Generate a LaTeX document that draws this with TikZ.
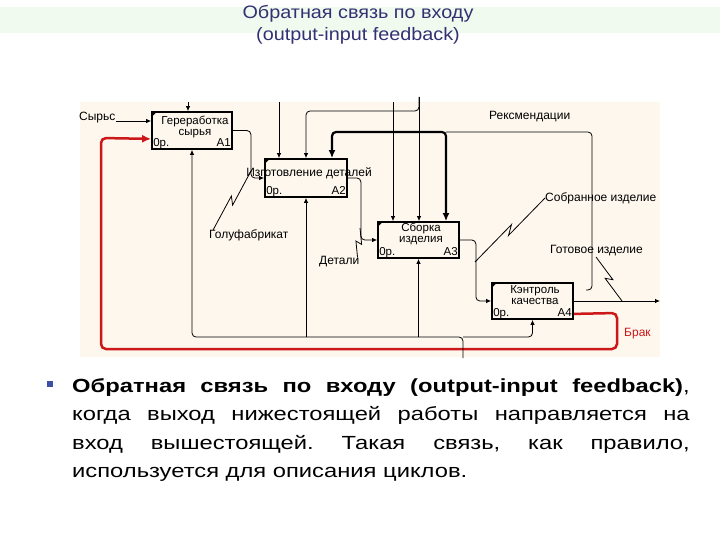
\documentclass[tikz,border=0pt]{standalone}
\usepackage{fontspec}
\setmainfont{Liberation Sans}
\usetikzlibrary{calc,arrows.meta}
\definecolor{cream}{RGB}{253,247,238}
\definecolor{titlegreen}{RGB}{240,250,238}
\definecolor{titleblue}{RGB}{50,50,115}
\definecolor{brakred}{RGB}{204,24,24}
\definecolor{bulletblue}{RGB}{60,80,165}
\newcommand\idefsquig[2]{\draw[wire,sharp corners] (#1) -- ($(#1)!0.55!(#2)!3pt!90:(#2)$) -- ($(#1)!0.45!(#2)!3pt!-90:(#2)$) -- (#2);}
\frenchspacing
\begin{document}
\begin{tikzpicture}[x=1pt,y=-1pt,
  box/.style={draw,line width=1.8pt,fill=cream,inner sep=0pt},
  wire/.style={line width=0.8pt,rounded corners=4pt},
  arr/.style={-{Latex[length=5pt,width=4.5pt]}},
  lbl/.style={font=\fontsize{12}{13}\selectfont,inner sep=0pt},
  boxtxt/.style={font=\fontsize{11.5}{12}\selectfont,inner sep=0pt},
  bodytxt/.style={anchor=base west,inner sep=0pt,font=\fontsize{19}{21}\selectfont},
  titletxt/.style={anchor=base,inner sep=0pt,text=titleblue,font=\fontsize{18}{20}\selectfont}
]
\useasboundingbox (0,0) rectangle (720,540);
\fill[white] (0,0) rectangle (720,540);
\fill[titlegreen] (0,7) rectangle (720,33);
\node[titletxt] (t1) at (358,19) {\scalebox{1.1}[1]{Обратная связь по входу}};
\node[titletxt] (t2) at (358,41) {\scalebox{1.1}[1]{(output-input feedback)}};

% diagram background
\fill[cream] (80,102) rectangle (660,357);

% boxes
\node[box,minimum width=80pt,minimum height=37pt] (A1) at (192,130.5) {};
\node[box,minimum width=82pt,minimum height=38pt] (A2) at (306,178) {};
\node[box,minimum width=81pt,minimum height=36pt] (A3) at (418.5,240) {};
\node[box,minimum width=81pt,minimum height=36pt] (A4) at (532.5,301) {};
\foreach \b in {A1,A2,A3,A4}{
  \fill ($(\b.north west)+(1,1)$) -- ++(4.5,0) -- ++(-4.5,4.5) -- cycle;
  \node[boxtxt,anchor=base west] (\b op) at ($(\b.south west)+(2,-3)$) {0р.};
}
\node[boxtxt,anchor=base east] (A1n) at ($(A1.south east)+(-2,-3)$) {A1};
\node[boxtxt,anchor=base east] (A2n) at ($(A2.south east)+(-2,-3)$) {A2};
\node[boxtxt,anchor=base east] (A3n) at ($(A3.south east)+(-2,-3)$) {A3};
\node[boxtxt,anchor=base east] (A4n) at ($(A4.south east)+(-2,-3)$) {A4};
\node[boxtxt,anchor=base] (A1a) at (195,124.5) {Гереработка};
\node[boxtxt,anchor=base] (A1b) at (195,135.5) {сырья};
\node[lbl] (A2a) at (309,173) {Изготовление деталей};
\node[boxtxt,anchor=base] (A3a) at (421,231.5) {Сборка};
\node[boxtxt,anchor=base] (A3b) at (421,243) {изделия};
\node[boxtxt,anchor=base] (A4a) at (535,293) {Кэнтроль};
\node[boxtxt,anchor=base] (A4b) at (535,304.5) {качества};

% input
\node[lbl,anchor=base west] (lSyr) at (79,121) {Сырьс};
\draw[wire,arr] (lSyr.base east) -- (A1.west |- lSyr.base);

% red feedback
\node[lbl,text=brakred,anchor=west] (lBrak) at (624,334) {Брак};
\draw[brakred,line width=2.5pt,rounded corners=5pt,-{Latex[length=9pt,width=8pt]}]
  ($(A4.south east)+(0,-6)$) -- (617,313) -- (617,349) -- (101,349) -- (101,138) -- ($(A1.south west)+(0,-11)$);

% outputs
\draw[wire,arr] (A1.east) -- ++(18,0) |- (A2.west);
\draw[wire,arr] (A2.east) -- ++(13,0) |- (A3.west);
\draw[wire,arr] (A3.east) -- ++(16,0) |- (A4.west);
\coordinate (out4) at (660,301);
\draw[wire,arr] (A4.east) -- (out4);

% controls
\coordinate (cA1) at (188,102);
\draw[wire,arr] (cA1) -- (cA1 |- A1.north);
\coordinate (cA2a) at (279,102);
\draw[wire,arr] (cA2a) -- (cA2a |- A2.north);
\coordinate (cA3a) at (393,102);
\draw[wire,arr] (cA3a) -- (cA3a |- A3.north);
\coordinate (cA3b) at (419,97);
\draw[wire,arr] (cA3b) -- (cA3b |- A3.north);
\draw[wire,arr] (cA3b) -- ++(0,14) -| (A2.north);

% recommendations (thick control)
\coordinate (rj) at (446,132);
\draw[line width=2.2pt,rounded corners=4pt,{Latex[length=8pt,width=7pt]}-{Latex[length=8pt,width=7pt]}]
  ($(A2.north)+(26,0)$) |- (rj) -- (rj |- A3.north);
\draw[wire] (rj) -- (592,132) -- (592,290) -- (586,290);
\node[lbl,anchor=west] (lRek) at (489,117) {Рексмендации};

% mechanisms
\coordinate (mech) at (463,358);
\coordinate (mj) at (463,337);
\draw[wire,arr] (mech) -- (mj) -| (A1.south);
\draw[wire,arr] (A2.south |- mj) -- (A2.south);
\draw[wire,arr] (A3.south |- mj) -- (A3.south);
\draw[wire,arr] (mj) -| (A4.south);

% labels with squiggles
\node[lbl,anchor=west] (lPol) at (209,235) {Голуфабрикат};
\coordinate (sq1s) at ($(lPol.north west)+(4,1)$);
\coordinate (sq1e) at (251,171);
\idefsquig{sq1s}{sq1e}
\node[lbl,anchor=west] (lDet) at (319,262) {Детали};
\coordinate (sq2s) at ($(lDet.north east)+(-2,1)$);
\coordinate (sq2e) at (360,228);
\idefsquig{sq2s}{sq2e}
\node[lbl,anchor=west] (lSob) at (545,198) {Собранное изделие};
\coordinate (sq3e) at (475,262);
\idefsquig{lSob.west}{sq3e}
\node[lbl,anchor=west] (lGot) at (550,251) {Готовое изделие};
\coordinate (sq4s) at (596,257);
\coordinate (sq4e) at (622,301);
\idefsquig{sq4s}{sq4e}

% body text
\fill[bulletblue] (47,381) rectangle (53,387);
\node[bodytxt] (p1) at (72,392) {\scalebox{1.25}[1]{\makebox[494pt][s]{\bfseries Обратная связь по входу (output-input feedback)\normalfont,}}};
\node[bodytxt] (p2) at (72,420.5) {\scalebox{1.25}[1]{\makebox[494pt][s]{когда выход нижестоящей работы направляется на}}};
\node[bodytxt] (p3) at (72,449) {\scalebox{1.25}[1]{\makebox[494pt][s]{вход вышестоящей. Такая связь, как правило,}}};
\node[bodytxt] (p4) at (72,477.5) {\scalebox{1.25}[1]{используется для описания циклов.}};
\end{tikzpicture}
\end{document}
